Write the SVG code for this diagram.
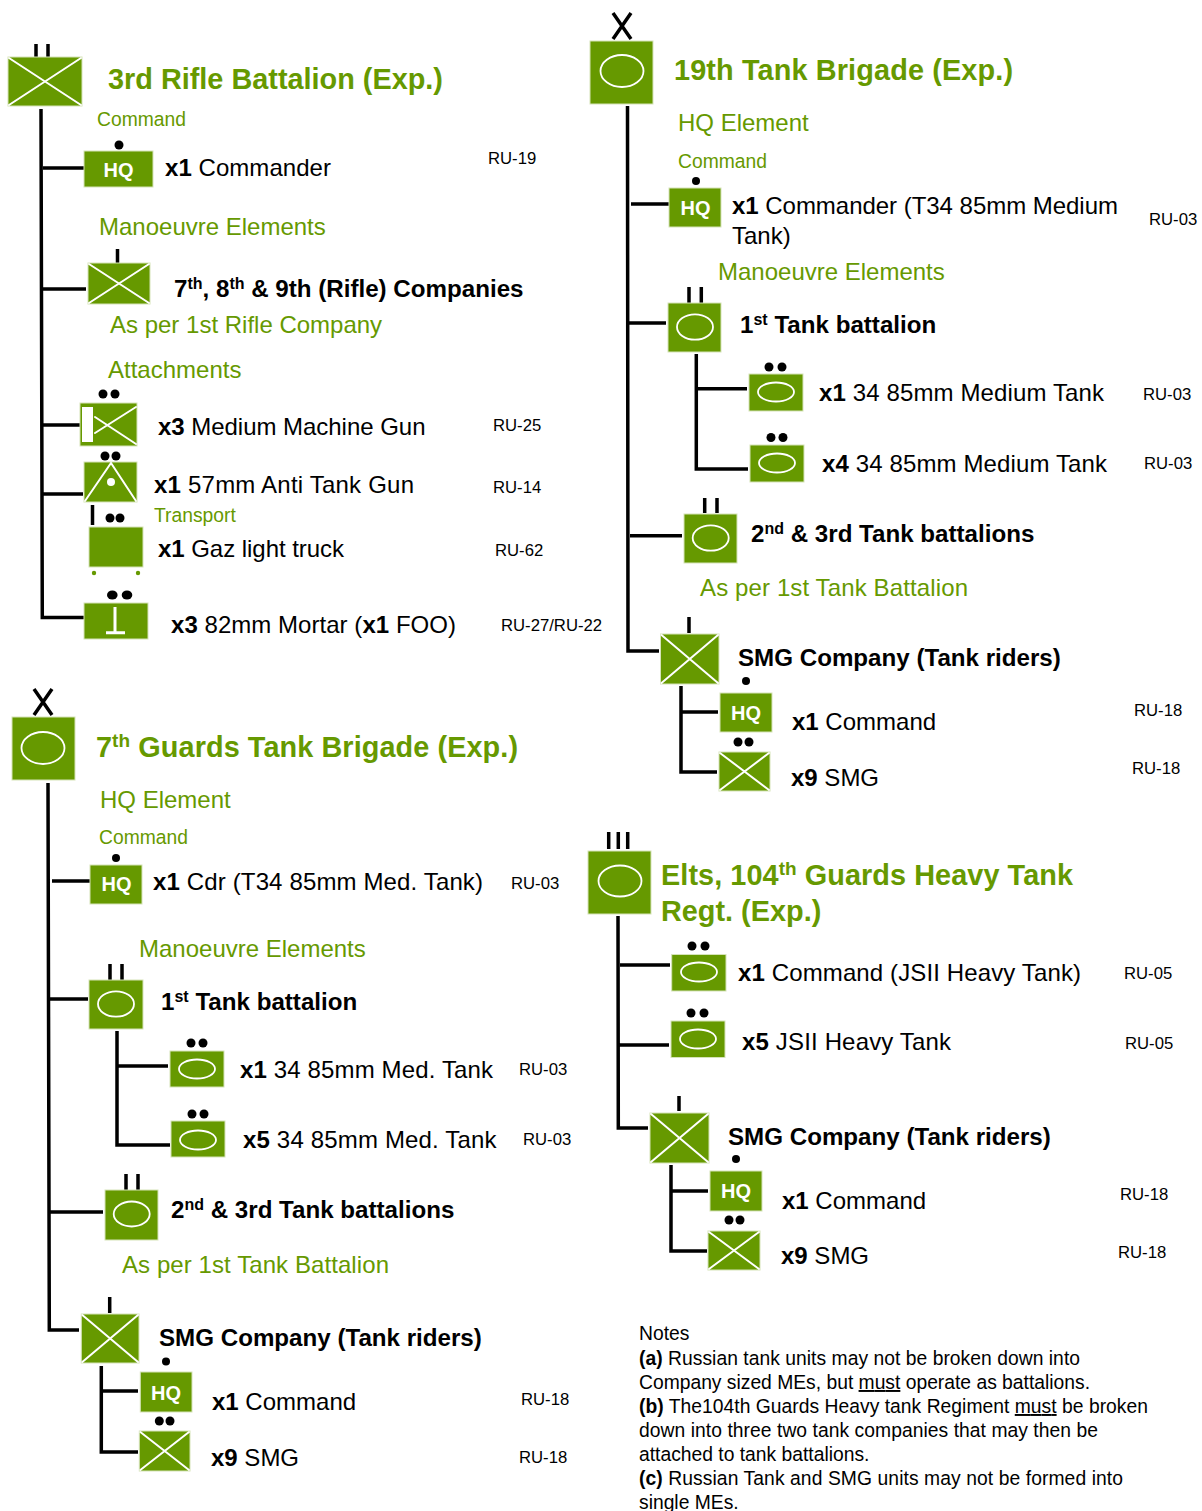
<svg xmlns="http://www.w3.org/2000/svg" width="1202" height="1511" viewBox="0 0 1202 1511">
<style>
text{font-family:"Liberation Sans",Arial,sans-serif}
.f{fill:#669900;stroke:#d5e3b8;stroke-width:1}
.w{stroke:#fff;stroke-width:2;fill:none;stroke-linecap:round}
.e{stroke:#fff;stroke-width:1.800;fill:none}
.k{stroke:#000;stroke-width:3.500;fill:none}
.d{fill:#000}
.t{font-size:28.850px;font-weight:700;fill:#669900}
.h{font-size:24px;fill:#669900}
.s{font-size:19.300px;fill:#669900}
.b{font-size:24px;fill:#000}
.m{font-size:24.150px;font-weight:700;fill:#000}
.r{font-size:16.700px;fill:#000}
.q{font-size:20px;font-weight:700;fill:#fff;text-anchor:middle}
.n{font-size:19.300px;fill:#000}
.B{font-weight:700}
.u{text-decoration:underline}
.p{font-size:16px}
</style>
<rect width="1202" height="1511" fill="#fff"/>
<g id="connectors">
<path class="k" d="M41 109L42.300 617.500H84M43 168H84M42 289H86M42 425H80M42 494H83"/>
<path class="k" d="M36 44V57M48 44V57M117.500 249V263M92.500 505V525"/>
<path class="k" d="M613 13L631 39M631 13L613 39"/>
<path class="k" d="M627.500 106L628 651H659M631 204H670M628 323H666M630 535.700H682"/>
<path class="k" d="M689 287V303M701.300 287V303M704.700 498V513M717 498V513M689 617V633"/>
<path class="k" d="M696.300 354V469H748M696.300 388.700H747M681 686V772H717M681 712H718"/>
<path class="k" d="M34 689L52 715M52 689L34 715"/>
<path class="k" d="M48 783L49.300 1330H79M52 881H90M49 999H88M50 1212H103"/>
<path class="k" d="M110 964V980M122 964V980M126 1174V1190M138 1174V1190M109.700 1297V1313"/>
<path class="k" d="M117 1031V1145H170M117 1066H168M101.300 1366V1452H138M103 1391H138"/>
<path class="k" d="M608.700 832V849M618.300 832V849M627.700 832V849M679 1096V1111"/>
<path class="k" d="M618 916L618.300 1128H648M620 965H670M618 1045H669M671 1165V1251H707M671 1191H708"/>
</g>

<g id="rifle-bn-title">
<rect class="f" x="8" y="57" width="74" height="49"/><path class="w" d="M9 58L81 105M81 58L9 105"/>
<text class="t" x="108" y="89">3rd Rifle Battalion (Exp.)</text>
</g>
<text class="s" x="97" y="126">Command</text>
<g id="rifle-commander">
<circle class="d" cx="119" cy="145" r="4.500"/>
<rect class="f" x="84" y="151" width="69" height="36"/><text class="q" x="118.500" y="177">HQ</text>
<text class="b" x="165" y="176" textLength="166"><tspan class="B">x1</tspan> Commander</text>
<text class="r" x="488" y="164">RU-19</text>
</g>
<text class="h" x="99" y="235">Manoeuvre Elements</text>
<g id="rifle-companies">
<rect class="f" x="88" y="263" width="62" height="41"/><path class="w" d="M89 264L149 303M149 264L89 303"/>
<text class="m" x="174" y="297">7<tspan class="p" dy="-8">th</tspan><tspan dy="8">, 8</tspan><tspan class="p" dy="-8">th</tspan><tspan dy="8"> &amp; 9th (Rifle) Companies</tspan></text>
</g>
<text class="h" x="110" y="333">As per 1st Rifle Company</text>
<text class="h" x="108" y="378">Attachments</text>
<g id="rifle-mmg">
<circle class="d" cx="103" cy="394" r="4.500"/><circle class="d" cx="115" cy="394" r="4.500"/>
<rect class="f" x="80" y="403" width="57" height="43"/><rect x="82" y="407" width="11" height="35" fill="#fff"/>
<path class="w" d="M95 417L136 444M95 433L136 407"/>
<text class="b" x="158" y="435" textLength="267.500"><tspan class="B">x3</tspan> Medium Machine Gun</text>
<text class="r" x="493" y="431">RU-25</text>
</g>
<g id="rifle-atg">
<circle class="d" cx="105" cy="456" r="4.500"/><circle class="d" cx="116" cy="456" r="4.500"/>
<rect class="f" x="84" y="462" width="53" height="40"/><path class="w" d="M85 501L111 463L136 501"/>
<circle cx="111" cy="482" r="4" fill="#fff"/>
<text class="b" x="154" y="493" textLength="260"><tspan class="B">x1</tspan> 57mm Anti Tank Gun</text>
<text class="r" x="493" y="493">RU-14</text>
</g>
<text class="s" x="154" y="522">Transport</text>
<g id="rifle-truck">
<circle class="d" cx="110" cy="518" r="4.500"/><circle class="d" cx="120" cy="518" r="4.500"/>
<rect class="f" x="89" y="527" width="54" height="40"/>
<circle cx="94" cy="573" r="2.200" fill="#669900"/><circle cx="138" cy="573" r="2.200" fill="#669900"/>
<text class="b" x="158" y="557" textLength="186"><tspan class="B">x1</tspan> Gaz light truck</text>
<text class="r" x="495" y="556">RU-62</text>
</g>
<g id="rifle-mortar">
<ellipse class="d" cx="112.300" cy="595" rx="5.300" ry="4.500"/><ellipse class="d" cx="127" cy="595" rx="5.300" ry="4.500"/>
<rect class="f" x="84" y="603" width="64" height="36"/><path class="w" style="stroke-width:3;stroke-linecap:butt" d="M115 607V632M106 632.700H125"/>
<text class="b" x="171" y="633" textLength="285"><tspan class="B">x3</tspan> 82mm Mortar (<tspan class="B">x1</tspan> FOO)</text>
<text class="r" x="501" y="631">RU-27/RU-22</text>
</g>

<g id="t19-title">
<rect class="f" x="590" y="41" width="63" height="63"/><ellipse class="e" cx="622" cy="71" rx="21.500" ry="16"/>
<text class="t" x="674" y="80" textLength="339">19th Tank Brigade (Exp.)</text>
</g>
<text class="h" x="678" y="131">HQ Element</text>
<text class="s" x="678" y="168">Command</text>
<g id="t19-commander">
<circle class="d" cx="696" cy="181" r="4"/>
<rect class="f" x="669" y="188" width="52" height="39"/><text class="q" x="695.500" y="215">HQ</text>
<text class="b" x="732" y="214" textLength="386"><tspan class="B">x1</tspan> Commander (T34 85mm Medium</text>
<text class="b" x="732" y="244">Tank)</text>
<text class="r" x="1149" y="225">RU-03</text>
</g>
<text class="h" x="718" y="280">Manoeuvre Elements</text>
<g id="t19-bn1">
<rect class="f" x="668" y="303" width="53" height="49"/><ellipse class="e" cx="695" cy="327" rx="18" ry="12.700"/>
<text class="m" x="740" y="333">1<tspan class="p" dy="-8">st</tspan><tspan dy="8"> Tank battalion</tspan></text>
</g>
<g id="t19-bn1-a">
<circle class="d" cx="769" cy="367" r="4.500"/><circle class="d" cx="782" cy="367" r="4.500"/>
<rect class="f" x="749" y="374" width="54" height="37"/><ellipse class="e" cx="776" cy="392" rx="18" ry="9.500"/>
<text class="b" x="819" y="401" textLength="285"><tspan class="B">x1</tspan> 34 85mm Medium Tank</text>
<text class="r" x="1143" y="400">RU-03</text>
</g>
<g id="t19-bn1-b">
<circle class="d" cx="771" cy="437.500" r="4.500"/><circle class="d" cx="783" cy="437.500" r="4.500"/>
<rect class="f" x="750" y="445" width="54" height="37"/><ellipse class="e" cx="777" cy="463" rx="18" ry="9.500"/>
<text class="b" x="822" y="472" textLength="285"><tspan class="B">x4</tspan> 34 85mm Medium Tank</text>
<text class="r" x="1144" y="469">RU-03</text>
</g>
<g id="t19-bn23">
<rect class="f" x="684" y="514" width="53" height="49"/><ellipse class="e" cx="710.700" cy="538" rx="18" ry="12.700"/>
<text class="m" x="751" y="542">2<tspan class="p" dy="-8">nd</tspan><tspan dy="8"> &amp; 3rd Tank battalions</tspan></text>
</g>
<text class="h" x="700" y="596" textLength="268">As per 1st Tank Battalion</text>
<g id="t19-smg">
<rect class="f" x="660.500" y="634" width="58.500" height="50"/><path class="w" d="M661.500 635L718 683M718 635L661.500 683"/>
<text class="m" x="738" y="666">SMG Company (Tank riders)</text>
</g>
<g id="t19-smg-hq">
<circle class="d" cx="746" cy="681" r="4"/>
<rect class="f" x="720" y="693" width="52" height="39"/><text class="q" x="746" y="720">HQ</text>
<text class="b" x="792" y="730"><tspan class="B">x1</tspan> Command</text>
<text class="r" x="1134" y="716">RU-18</text>
</g>
<g id="t19-smg-x9">
<circle class="d" cx="738" cy="742" r="4.500"/><circle class="d" cx="749" cy="742" r="4.500"/>
<rect class="f" x="719" y="752" width="51" height="39"/><path class="w" d="M720 753L769 790M769 753L720 790"/>
<text class="b" x="791" y="786"><tspan class="B">x9</tspan> SMG</text>
<text class="r" x="1132" y="774">RU-18</text>
</g>

<g id="g7-title">
<rect class="f" x="12" y="717" width="63" height="63"/><ellipse class="e" cx="43" cy="748" rx="21.500" ry="16"/>
<text class="t" x="96" y="757" textLength="422">7<tspan font-size="19px" dy="-10">th</tspan><tspan dy="10"> Guards Tank Brigade (Exp.)</tspan></text>
</g>
<text class="h" x="100" y="808">HQ Element</text>
<text class="s" x="99" y="844">Command</text>
<g id="g7-commander">
<circle class="d" cx="116" cy="858" r="4"/>
<rect class="f" x="90" y="865" width="52" height="39"/><text class="q" x="116.500" y="891">HQ</text>
<text class="b" x="153" y="890" textLength="330"><tspan class="B">x1</tspan> Cdr (T34 85mm Med. Tank)</text>
<text class="r" x="511" y="889">RU-03</text>
</g>
<text class="h" x="139" y="957">Manoeuvre Elements</text>
<g id="g7-bn1">
<rect class="f" x="89" y="980" width="54" height="49"/><ellipse class="e" cx="116" cy="1004" rx="18" ry="12.700"/>
<text class="m" x="161" y="1010">1<tspan class="p" dy="-8">st</tspan><tspan dy="8"> Tank battalion</tspan></text>
</g>
<g id="g7-bn1-a">
<circle class="d" cx="191" cy="1043" r="4.500"/><circle class="d" cx="203" cy="1043" r="4.500"/>
<rect class="f" x="170" y="1051" width="54" height="36"/><ellipse class="e" cx="197" cy="1069" rx="18" ry="9.500"/>
<text class="b" x="240" y="1078" textLength="253"><tspan class="B">x1</tspan> 34 85mm Med. Tank</text>
<text class="r" x="519" y="1075">RU-03</text>
</g>
<g id="g7-bn1-b">
<circle class="d" cx="192" cy="1114" r="4.500"/><circle class="d" cx="204" cy="1114" r="4.500"/>
<rect class="f" x="171" y="1121" width="54" height="36"/><ellipse class="e" cx="198" cy="1140" rx="18" ry="9.500"/>
<text class="b" x="243" y="1148" textLength="253.500"><tspan class="B">x5</tspan> 34 85mm Med. Tank</text>
<text class="r" x="523" y="1145">RU-03</text>
</g>
<g id="g7-bn23">
<rect class="f" x="105" y="1190" width="53" height="50"/><ellipse class="e" cx="131.700" cy="1214" rx="18" ry="12.500"/>
<text class="m" x="171" y="1218">2<tspan class="p" dy="-8">nd</tspan><tspan dy="8"> &amp; 3rd Tank battalions</tspan></text>
</g>
<text class="h" x="122" y="1273" textLength="267">As per 1st Tank Battalion</text>
<g id="g7-smg">
<rect class="f" x="81.300" y="1314" width="57.700" height="49"/><path class="w" d="M82.300 1315L138 1362M138 1315L82.300 1362"/>
<text class="m" x="159" y="1346">SMG Company (Tank riders)</text>
</g>
<g id="g7-smg-hq">
<circle class="d" cx="166" cy="1361.500" r="4"/>
<rect class="f" x="140.300" y="1372" width="51.700" height="40"/><text class="q" x="166" y="1400">HQ</text>
<text class="b" x="212" y="1410"><tspan class="B">x1</tspan> Command</text>
<text class="r" x="521" y="1405">RU-18</text>
</g>
<g id="g7-smg-x9">
<circle class="d" cx="159.300" cy="1421" r="4.500"/><circle class="d" cx="170" cy="1421" r="4.500"/>
<rect class="f" x="139.300" y="1431" width="50.700" height="40"/><path class="w" d="M140.300 1432L189 1470M189 1432L140.300 1470"/>
<text class="b" x="211" y="1466"><tspan class="B">x9</tspan> SMG</text>
<text class="r" x="519" y="1463">RU-18</text>
</g>

<g id="g104-title">
<rect class="f" x="588" y="851" width="63" height="63"/><ellipse class="e" cx="620" cy="881" rx="21.500" ry="15.500"/>
<text class="t" x="661" y="885" textLength="412">Elts, 104<tspan font-size="19px" dy="-10">th</tspan><tspan dy="10"> Guards Heavy Tank</tspan></text>
<text class="t" x="661" y="921">Regt. (Exp.)</text>
</g>
<g id="g104-command">
<circle class="d" cx="692" cy="946" r="4.500"/><circle class="d" cx="705" cy="946" r="4.500"/>
<rect class="f" x="671.700" y="954.500" width="54.300" height="36.500"/><ellipse class="e" cx="699" cy="972" rx="18" ry="9.500"/>
<text class="b" x="738" y="981" textLength="343"><tspan class="B">x1</tspan> Command (JSII Heavy Tank)</text>
<text class="r" x="1124" y="979">RU-05</text>
</g>
<g id="g104-tanks">
<circle class="d" cx="691" cy="1013" r="4.500"/><circle class="d" cx="704" cy="1013" r="4.500"/>
<rect class="f" x="671" y="1021" width="54" height="36.500"/><ellipse class="e" cx="698" cy="1039" rx="18" ry="9.500"/>
<text class="b" x="742" y="1050" textLength="209"><tspan class="B">x5</tspan> JSII Heavy Tank</text>
<text class="r" x="1125" y="1049">RU-05</text>
</g>
<g id="g104-smg">
<rect class="f" x="650" y="1113" width="59" height="50"/><path class="w" d="M651 1114L708 1162M708 1114L651 1162"/>
<text class="m" x="728" y="1145">SMG Company (Tank riders)</text>
</g>
<g id="g104-smg-hq">
<circle class="d" cx="736" cy="1159" r="4"/>
<rect class="f" x="710" y="1171" width="52" height="40"/><text class="q" x="736" y="1198">HQ</text>
<text class="b" x="782" y="1209"><tspan class="B">x1</tspan> Command</text>
<text class="r" x="1120" y="1200">RU-18</text>
</g>
<g id="g104-smg-x9">
<circle class="d" cx="729" cy="1220" r="4.500"/><circle class="d" cx="740" cy="1220" r="4.500"/>
<rect class="f" x="708" y="1231" width="52" height="39"/><path class="w" d="M709 1232L759 1269M759 1232L709 1269"/>
<text class="b" x="781" y="1264"><tspan class="B">x9</tspan> SMG</text>
<text class="r" x="1118" y="1258">RU-18</text>
</g>

<g id="notes">
<text class="n" x="639" y="1340">Notes</text>
<text class="n" x="639" y="1365" textLength="441"><tspan class="B">(a)</tspan> Russian tank units may not be broken down into</text>
<text class="n" x="639" y="1389" textLength="451">Company sized MEs, but <tspan class="u">must</tspan> operate as battalions.</text>
<text class="n" x="639" y="1413" textLength="509"><tspan class="B">(b)</tspan> The104th Guards Heavy tank Regiment <tspan class="u">must</tspan> be broken</text>
<text class="n" x="639" y="1437" textLength="459">down into three two tank companies that may then be</text>
<text class="n" x="639" y="1461">attached to tank battalions.</text>
<text class="n" x="639" y="1485" textLength="484"><tspan class="B">(c)</tspan> Russian Tank and SMG units may not be formed into</text>
<text class="n" x="639" y="1509">single MEs.</text>
</g>
</svg>
